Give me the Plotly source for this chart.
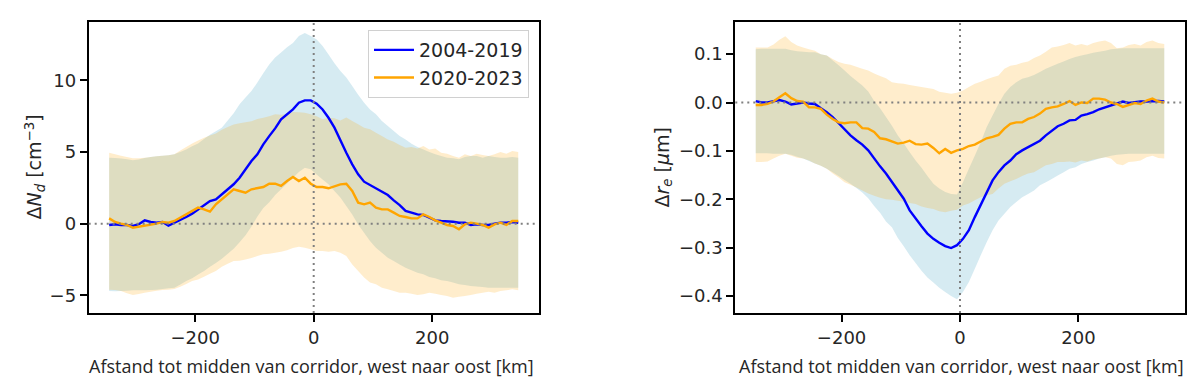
import plotly.graph_objects as go

# ---------------- data ----------------
dist_km = [-345, -335, -325, -315, -305, -295, -285, -275, -265, -255,
           -245, -235, -225, -215, -205, -195, -185, -175, -165, -155,
           -145, -135, -125, -115, -105, -95, -85, -75, -65, -55,
           -45, -35, -25, -15, -5, 5, 15, 25, 35, 45,
           55, 65, 75, 85, 95, 105, 115, 125, 135, 145,
           155, 165, 175, 185, 195, 205, 215, 225, 235, 245,
           255, 265, 275, 285, 295, 305, 315, 325, 335, 345]

series_names = ["2004-2019", "2020-2023"]

# Delta N_d  [cm^-3]
nd_2004 = [-0.09, -0.04, -0.09, -0.09, -0.16, -0.04, 0.23, 0.12, 0.07, 0.12,
           -0.14, 0.05, 0.26, 0.47, 0.70, 1.0, 1.30, 1.58, 1.70, 2.05,
           2.40, 2.75, 3.21, 3.79, 4.37, 4.84, 5.53, 6.11, 6.65, 7.28,
           7.63, 7.98, 8.44, 8.60, 8.60, 8.37, 7.97, 7.39, 6.70, 5.77,
           4.95, 4.14, 3.44, 2.93, 2.70, 2.51, 2.23, 2.0, 1.63, 1.30,
           0.89, 0.77, 0.65, 0.61, 0.42, 0.23, 0.19, 0.19, 0.14, 0.07,
           0.07, -0.09, -0.04, -0.09, -0.09, 0.0, 0.07, 0.07, 0.12, 0.07]
nd_2020 = [0.37, 0.12, 0.0, -0.09, -0.28, -0.21, -0.14, -0.09, 0.0, 0.12,
           0.07, 0.19, 0.42, 0.61, 0.89, 1.12, 1.0, 0.84, 1.35, 1.70,
           2.05, 2.40, 2.28, 2.16, 2.40, 2.46, 2.56, 2.79, 2.79, 2.63,
           2.98, 3.26, 2.98, 3.21, 2.79, 2.56, 2.56, 2.47, 2.63, 2.74,
           2.79, 2.28, 1.47, 1.35, 1.47, 1.12, 1.0, 1.0, 0.77, 0.54,
           0.47, 0.37, 0.37, 0.65, 0.47, 0.23, 0.07, -0.09, -0.16, -0.39,
           -0.05, 0.07, 0.0, -0.09, -0.28, -0.05, 0.07, -0.09, 0.19, 0.19]
nd_2004_hi = [4.6, 4.58, 4.55, 4.5, 4.42, 4.48, 4.58, 4.65, 4.7, 4.74,
              4.78, 4.84, 5.0, 5.17, 5.4, 5.6, 5.9, 6.2, 6.45, 6.7,
              7.2, 7.7, 8.33, 8.8, 9.25, 9.85, 10.5, 11.1, 11.6, 11.95,
              12.3, 12.6, 13.1, 13.3, 13.1, 12.85, 12.4, 11.8, 11.2, 10.65,
              10.2, 9.6, 9.0, 8.44, 7.97, 7.63, 7.16, 6.81, 6.46, 6.11,
              5.88, 5.58, 5.35, 5.18, 5.0, 4.84, 4.72, 4.6, 4.56, 4.49,
              4.65, 4.72, 4.72, 4.6, 4.72, 4.65, 4.6, 4.6, 4.65, 4.6]
nd_2004_lo = [-4.7, -4.72, -4.7, -4.68, -4.65, -4.65, -4.65, -4.63, -4.6, -4.55,
              -4.5, -4.46, -4.25, -4.0, -3.8, -3.55, -3.3, -3.0, -2.75, -2.45,
              -2.1, -1.75, -1.3, -0.8, -0.2, 0.5, 1.1, 1.5, 2.0, 2.4,
              2.8, 3.2, 3.6, 3.9, 3.79, 3.44, 3.09, 2.75, 2.28, 1.82,
              1.23, 0.65, -0.05, -0.63, -1.21, -1.67, -2.02, -2.37, -2.6, -2.84,
              -3.07, -3.25, -3.42, -3.53, -3.72, -3.81, -3.95, -4.0, -4.11, -4.23,
              -4.28, -4.35, -4.38, -4.42, -4.46, -4.46, -4.46, -4.46, -4.46, -4.46]
nd_2020_hi = [4.95, 4.85, 4.74, 4.65, 4.56, 4.57, 4.6, 4.65, 4.7, 4.74,
              4.78, 4.84, 5.1, 5.35, 5.6, 5.8, 6.0, 6.15, 6.3, 6.55,
              6.75, 6.92, 7.0, 7.08, 7.15, 7.3, 7.39, 7.5, 7.63, 7.6,
              7.65, 7.8, 7.78, 7.74, 7.63, 7.5, 7.28, 7.39, 7.35, 7.2,
              7.4, 7.16, 6.93, 6.7, 6.58, 6.35, 6.11, 5.88, 5.72, 5.49,
              5.3, 5.35, 5.25, 5.42, 5.18, 5.25, 4.95, 4.88, 4.72, 4.6,
              4.84, 4.72, 4.88, 4.8, 4.72, 4.84, 5.0, 4.88, 5.07, 5.0]
nd_2020_lo = [-4.6, -4.62, -4.7, -4.85, -4.97, -4.9, -4.82, -4.75, -4.68, -4.63,
              -4.6, -4.55, -4.4, -4.2, -4.0, -3.9, -3.7, -3.5, -3.3, -3.0,
              -2.8, -2.6, -2.58, -2.5, -2.4, -2.25, -2.14, -2.1, -2.02, -1.95,
              -1.85, -1.7, -1.6, -1.67, -1.79, -1.91, -1.91, -1.95, -1.91, -2.02,
              -2.25, -2.84, -3.3, -3.76, -4.11, -4.23, -4.46, -4.58, -4.69, -4.81,
              -4.81, -4.88, -4.97, -4.92, -4.81, -4.88, -4.97, -5.04, -5.16, -5.1,
              -5.04, -4.97, -4.88, -4.81, -4.75, -4.81, -4.7, -4.65, -4.58, -4.65]

# Delta r_e  [um]
re_2004 = [0.003, 0.0, 0.0, 0.003, 0.005, 0.002, -0.004, -0.002, 0.0, -0.002,
           -0.003, -0.012, -0.02, -0.03, -0.043, -0.056, -0.068, -0.078, -0.087, -0.099,
           -0.116, -0.132, -0.147, -0.165, -0.182, -0.199, -0.223, -0.240, -0.256, -0.271,
           -0.282, -0.290, -0.297, -0.301, -0.295, -0.282, -0.264, -0.237, -0.211, -0.185,
           -0.161, -0.144, -0.130, -0.120, -0.107, -0.099, -0.092, -0.085, -0.079, -0.068,
           -0.058, -0.049, -0.044, -0.037, -0.036, -0.027, -0.024, -0.020, -0.014, -0.010,
           -0.006, -0.003, 0.002, -0.001, 0.001, 0.002, 0.002, 0.003, 0.003, 0.002]
re_2020 = [-0.005, -0.005, -0.003, 0.002, 0.011, 0.019, 0.009, 0.003, 0.002, -0.01,
           -0.01, -0.013, -0.025, -0.034, -0.041, -0.043, -0.041, -0.041, -0.053, -0.054,
           -0.061, -0.074, -0.076, -0.080, -0.085, -0.083, -0.079, -0.086, -0.087, -0.085,
           -0.094, -0.105, -0.096, -0.104, -0.099, -0.096, -0.090, -0.087, -0.081, -0.074,
           -0.071, -0.067, -0.054, -0.044, -0.041, -0.041, -0.034, -0.030, -0.023, -0.013,
           -0.010, -0.008, -0.003, 0.003, -0.005, 0.0, -0.001, 0.008, 0.008, 0.006,
           0.0, -0.003, -0.009, -0.005, -0.001, -0.003, 0.004, 0.008, 0.002, 0.0]
re_2004_hi = [0.11, 0.111, 0.111, 0.111, 0.111, 0.111, 0.108, 0.106, 0.105, 0.104,
              0.104, 0.1, 0.097, 0.087, 0.077, 0.066, 0.055, 0.045, 0.035, 0.023,
              0.003, -0.012, -0.03, -0.048, -0.068, -0.085, -0.103, -0.12, -0.135, -0.152,
              -0.168, -0.178, -0.185, -0.189, -0.19, -0.165, -0.137, -0.11, -0.082, -0.051,
              -0.027, -0.003, 0.018, 0.032, 0.042, 0.049, 0.052, 0.057, 0.063, 0.07,
              0.075, 0.08, 0.085, 0.09, 0.094, 0.097, 0.1, 0.103, 0.105, 0.107,
              0.11, 0.111, 0.112, 0.112, 0.112, 0.112, 0.112, 0.112, 0.112, 0.112]
re_2004_lo = [-0.105, -0.105, -0.105, -0.106, -0.106, -0.106, -0.108, -0.112, -0.116, -0.121,
              -0.126, -0.131, -0.137, -0.144, -0.152, -0.16, -0.168, -0.177, -0.186, -0.198,
              -0.214, -0.228, -0.246, -0.258, -0.28, -0.297, -0.316, -0.332, -0.348, -0.362,
              -0.372, -0.383, -0.392, -0.4, -0.407, -0.392, -0.371, -0.344, -0.316, -0.289,
              -0.264, -0.244, -0.230, -0.216, -0.206, -0.196, -0.189, -0.182, -0.171, -0.165,
              -0.158, -0.151, -0.144, -0.137, -0.134, -0.127, -0.123, -0.12, -0.116, -0.113,
              -0.11, -0.108, -0.107, -0.106, -0.106, -0.106, -0.106, -0.106, -0.106, -0.106]
re_2020_hi = [0.114, 0.114, 0.114, 0.12, 0.13, 0.137, 0.125, 0.118, 0.114, 0.11,
              0.107, 0.1, 0.097, 0.09, 0.084, 0.08, 0.078, 0.074, 0.07, 0.066,
              0.06, 0.055, 0.05, 0.042, 0.04, 0.039, 0.036, 0.034, 0.032, 0.03,
              0.028, 0.022, 0.02, 0.018, 0.02, 0.025, 0.032, 0.039, 0.043, 0.048,
              0.052, 0.056, 0.070, 0.076, 0.078, 0.082, 0.085, 0.092, 0.097, 0.105,
              0.114, 0.116, 0.119, 0.123, 0.118, 0.121, 0.118, 0.123, 0.126, 0.128,
              0.123, 0.112, 0.114, 0.119, 0.121, 0.118, 0.125, 0.128, 0.123, 0.121]
re_2020_lo = [-0.123, -0.123, -0.122, -0.116, -0.11, -0.106, -0.11, -0.114, -0.116, -0.12,
              -0.126, -0.131, -0.137, -0.147, -0.155, -0.165, -0.17, -0.176, -0.182, -0.188,
              -0.193, -0.197, -0.2, -0.201, -0.203, -0.205, -0.208, -0.21, -0.215, -0.218,
              -0.22, -0.225, -0.227, -0.224, -0.222, -0.213, -0.209, -0.202, -0.196, -0.192,
              -0.189, -0.178, -0.168, -0.163, -0.158, -0.152, -0.147, -0.144, -0.137, -0.130,
              -0.127, -0.123, -0.123, -0.122, -0.124, -0.12, -0.122, -0.118, -0.116, -0.113,
              -0.116, -0.127, -0.13, -0.123, -0.122, -0.12, -0.113, -0.11, -0.115, -0.116]

x_ticks = [-200, 0, 200]
nd_ticks = [-5, 0, 5, 10]
re_ticks = [-0.4, -0.3, -0.2, -0.1, 0.0, 0.1]

x_title = "Afstand tot midden van corridor, west naar oost [km]"
nd_title = "Δ<i>N<sub>d</sub></i> [cm<sup>−3</sup>]"
re_title = "Δ<i>r<sub>e</sub></i> [<i>μ</i>m]"

# ---------------- styling ----------------
LINE_COLORS = ["#0000ff", "#ffa500"]
BAND_COLORS = ["rgba(173,216,230,0.5)", "rgba(255,165,0,0.2)"]
TICK_FONT = dict(family="DejaVu Sans", size=18, color="#262626")

fig = go.Figure()


def add_panel(xa, ya, lines, bands, show_legend):
    for (lo, hi), col in zip(bands, BAND_COLORS):
        fig.add_trace(go.Scatter(
            x=dist_km + dist_km[::-1], y=hi + lo[::-1],
            fill="toself", fillcolor=col, mode="none",
            line=dict(width=0), hoverinfo="skip", showlegend=False,
            xaxis=xa, yaxis=ya))
    for vals, col, name in zip(lines, LINE_COLORS, series_names):
        fig.add_trace(go.Scatter(
            x=dist_km, y=vals, mode="lines", name=name,
            line=dict(color=col, width=2.4), showlegend=show_legend,
            xaxis=xa, yaxis=ya))


add_panel("x", "y", [nd_2004, nd_2020],
          [(nd_2004_lo, nd_2004_hi), (nd_2020_lo, nd_2020_hi)], True)
add_panel("x2", "y2", [re_2004, re_2020],
          [(re_2004_lo, re_2004_hi), (re_2020_lo, re_2020_hi)], False)

W, H = 1200, 379
left_dom = [80.7 / W, 530.7 / W]
right_dom = [727.3 / W, 1176.7 / W]
y_dom = [1 - 305 / H, 1 - 14 / H]

axis_common = dict(showline=True, linecolor="black", linewidth=2, mirror=True,
                   ticks="outside", ticklen=7, tickwidth=1.5, tickcolor="black",
                   showgrid=False, zeroline=False, tickfont=TICK_FONT)

fig.update_layout(
    width=W, height=H,
    margin=dict(l=0, r=0, t=0, b=0),
    paper_bgcolor="white", plot_bgcolor="white",
    xaxis=dict(domain=left_dom, anchor="y", range=[-379.5, 379.5],
               tickvals=x_ticks, **axis_common),
    yaxis=dict(domain=y_dom, anchor="x", range=[-6.23, 14.07],
               tickvals=nd_ticks, **axis_common),
    xaxis2=dict(domain=right_dom, anchor="y2", range=[-379.5, 379.5],
                tickvals=x_ticks, **axis_common),
    yaxis2=dict(domain=y_dom, anchor="x2", range=[-0.4353, 0.1665],
                tickvals=re_ticks, tickformat=".1f", **axis_common),
    legend=dict(x=521 / W, y=1 - 22 / H, xanchor="right", yanchor="top",
                bgcolor="rgba(255,255,255,0.85)", bordercolor="#d0d0d0",
                borderwidth=1, itemwidth=40,
                font=dict(family="DejaVu Sans", size=19, color="#262626")),
    showlegend=True,
)

# reference dotted lines at zero
for xa, ya in [("x", "y"), ("x2", "y2")]:
    fig.add_shape(type="line", xref=f"{xa} domain", yref=ya, x0=0, x1=1, y0=0, y1=0,
                  line=dict(color="#808080", width=2, dash="2px,4px"))
    fig.add_shape(type="line", xref=xa, yref=f"{ya} domain", x0=0, x1=0, y0=0, y1=1,
                  line=dict(color="#808080", width=2, dash="2px,4px"))

# axis titles
title_font = dict(family="DejaVu Sans", size=19, color="#262626")
x_title_font = dict(family="Open Sans", size=18, color="#262626")
fig.add_annotation(text=nd_title, xref="paper", yref="paper", x=27 / W, y=1 - 159.5 / H,
                   textangle=-90, showarrow=False, font=title_font,
                   xanchor="center", yanchor="middle")
fig.add_annotation(text=re_title, xref="paper", yref="paper", x=655 / W, y=1 - 159.5 / H,
                   textangle=-90, showarrow=False, font=title_font,
                   xanchor="center", yanchor="middle")
fig.add_annotation(text=x_title, xref="paper", yref="paper", x=303 / W, y=1 - 358 / H,
                   showarrow=False, font=x_title_font, xanchor="center", yanchor="middle")
fig.add_annotation(text=x_title, xref="paper", yref="paper", x=953 / W, y=1 - 358 / H,
                   showarrow=False, font=x_title_font, xanchor="center", yanchor="middle")

fig.write_html("out.html")
